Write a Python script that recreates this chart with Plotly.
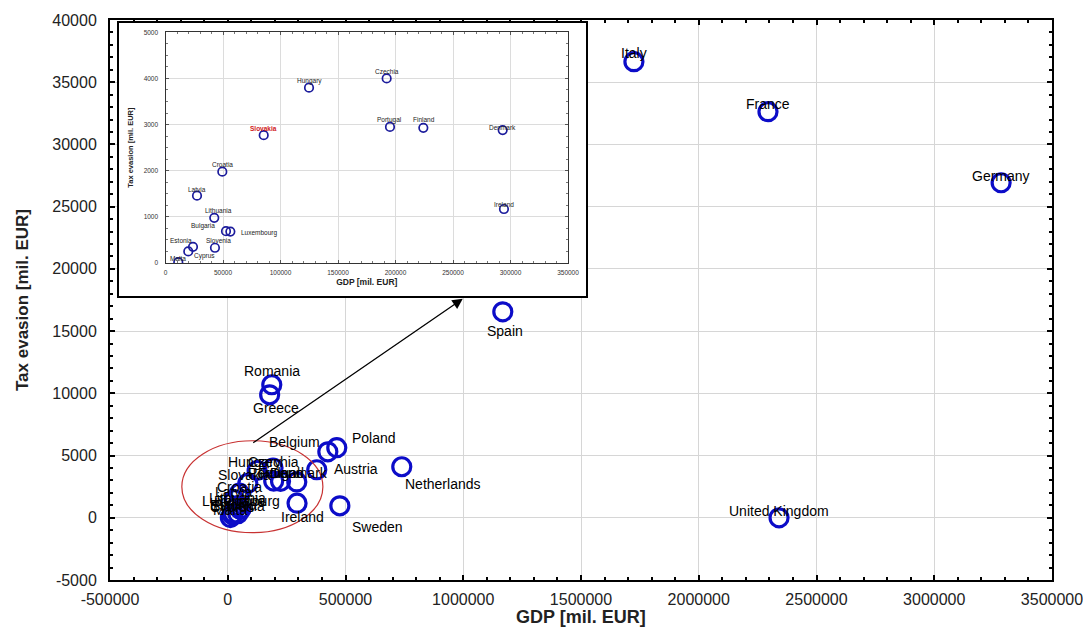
import plotly.graph_objects as go

# ---------------- data ----------------
countries = ["Italy", "France", "Germany", "Spain", "United Kingdom", "Netherlands",
             "Sweden", "Poland", "Belgium", "Austria", "Romania", "Greece", "Ireland",
             "Denmark", "Finland", "Portugal", "Czechia", "Hungary", "Slovakia",
             "Croatia", "Latvia", "Lithuania", "Bulgaria", "Luxembourg", "Slovenia",
             "Estonia", "Cyprus", "Malta"]
gdp = [1724700, 2294000, 3284000, 1168000, 2341000, 739000,
       476000, 463000, 425000, 378000, 187000, 178000, 294300,
       293200, 224200, 195200, 192300, 124800, 85400,
       49400, 27400, 42400, 52600, 56400, 43000,
       23900, 19800, 11100]
tax_evasion = [36650, 32630, 26920, 16550, 0, 4100,
               960, 5630, 5300, 3860, 10690, 9880, 1170,
               2880, 2930, 2950, 4000, 3800, 2770,
               1980, 1460, 980, 690, 680, 330,
               350, 250, 20]

x_ticks = [-500000, 0, 500000, 1000000, 1500000, 2000000, 2500000, 3000000, 3500000]
y_ticks = [-5000, 0, 5000, 10000, 15000, 20000, 25000, 30000, 35000, 40000]
inset_x_ticks = [0, 50000, 100000, 150000, 200000, 250000, 300000, 350000]
inset_y_ticks = [0, 1000, 2000, 3000, 4000, 5000]

x_title = "GDP [mil. EUR]"
y_title = "Tax evasion [mil. EUR]"
highlight = "Slovakia"

# highlighted region (ellipse) and arrow to inset, in data units
ellipse_x = [-195000, 404000]
ellipse_y = [-1200, 6190]
arrow_from = (102000, 5950)
arrow_to = (998000, 17600)

# ---------------- styles ----------------
BLUE = "#0c0cc8"
INSET_BLUE = "#1c1c9c"
FONT = "Liberation Sans, Arial, sans-serif"

main_label_shift = {
    "Italy": (0, 9), "France": (0, 8), "Germany": (0, 7), "Spain": (2, -19),
    "United Kingdom": (0, 7), "Netherlands": (41, -17), "Sweden": (38, -21),
    "Poland": (37, 10), "Belgium": (-33, 10), "Austria": (39, 1),
    "Romania": (0, 14), "Greece": (6, -13), "Ireland": (5, -14),
    "Denmark": (2, 9), "Hungary": (-3, 8), "Czechia": (0, 6), "Slovakia": (-3, 8),
    "Portugal": (0, 8), "Finland": (0, 8), "Croatia": (0, 6), "Latvia": (0, 8),
    "Lithuania": (0, 8), "Bulgaria": (0, 8), "Luxembourg": (0, 8),
    "Slovenia": (0, 8), "Estonia": (0, 8), "Cyprus": (0, 8), "Malta": (0, 8),
}
inset_label_shift = {
    "Hungary": (0, 7), "Slovakia": (0, 7), "Czechia": (0, 7), "Portugal": (0, 7),
    "Finland": (1, 8), "Denmark": (0, 3), "Ireland": (0, 5), "Croatia": (0, 7),
    "Latvia": (0, 6), "Lithuania": (4, 7), "Bulgaria": (-23, 5),
    "Luxembourg": (29, -1), "Slovenia": (4, 7), "Estonia": (-12, 6),
    "Cyprus": (16, -5), "Malta": (0, 4),
}

inset_xmax = inset_x_ticks[-1]
inset_ymax = inset_y_ticks[-1]
inset_idx = [i for i in range(len(countries))
             if gdp[i] <= inset_xmax and tax_evasion[i] <= inset_ymax]

fig = go.Figure()

# main scatter
fig.add_trace(go.Scatter(
    x=gdp, y=tax_evasion, mode="markers", xaxis="x", yaxis="y",
    marker=dict(symbol="circle-open", size=18, color=BLUE, line=dict(width=3.2, color=BLUE)),
    hoverinfo="text", text=countries, showlegend=False))

# inset frame subplot (empty)
fig.add_trace(go.Scatter(x=[], y=[], xaxis="x2", yaxis="y2", showlegend=False, hoverinfo="skip"))

# inset scatter
fig.add_trace(go.Scatter(
    x=[gdp[i] for i in inset_idx], y=[tax_evasion[i] for i in inset_idx],
    mode="markers", xaxis="x3", yaxis="y3",
    marker=dict(symbol="circle-open", size=8.5, color=INSET_BLUE, line=dict(width=1.7, color=INSET_BLUE)),
    hoverinfo="text", text=[countries[i] for i in inset_idx], showlegend=False))

annotations = []
for c, gx, gy in zip(countries, gdp, tax_evasion):
    dx, dy = main_label_shift[c]
    annotations.append(dict(x=gx, y=gy, xref="x", yref="y", text=c, showarrow=False,
                            xshift=dx, yshift=dy,
                            font=dict(family=FONT, size=14, color="black")))
for i in inset_idx:
    c = countries[i]
    dx, dy = inset_label_shift[c]
    is_hl = c == highlight
    annotations.append(dict(x=gdp[i], y=tax_evasion[i], xref="x3", yref="y3",
                            text=("<b>%s</b>" % c) if is_hl else c, showarrow=False,
                            xshift=dx, yshift=dy,
                            font=dict(family=FONT, size=6.5,
                                      color="#d02020" if is_hl else "#222")))
# arrow
annotations.append(dict(x=arrow_to[0], y=arrow_to[1], ax=arrow_from[0], ay=arrow_from[1],
                        xref="x", yref="y", axref="x", ayref="y", text="",
                        showarrow=True, arrowhead=2, arrowsize=1.6, arrowwidth=1.3,
                        arrowcolor="black"))

shapes = [dict(type="circle", xref="x", yref="y",
               x0=ellipse_x[0], x1=ellipse_x[1], y0=ellipse_y[0], y1=ellipse_y[1],
               line=dict(color="#c83232", width=1.2), layer="above")]

# page body has an 8px margin: figure is sized so that the page is 1091x635
BODY = 8
W, H = 1091 - 2 * BODY, 635 - 2 * BODY
# plot area in page pixels: x 110..1052, y 20..580
ML, MR, MT, MB = 110 - BODY, 1091 - BODY - 1052, 20 - BODY, 635 - BODY - 580
PW, PH = W - ML - MR, H - MT - MB


def dom_x(a, b):
    # page-pixel x range -> domain
    return [(a - BODY - ML) / PW, (b - BODY - ML) / PW]


def dom_y(top, bottom):
    # page-pixel y range -> domain
    return [(MT + PH - (bottom - BODY)) / PH, (MT + PH - (top - BODY)) / PH]


# main x-axis title as a paper annotation (kept inside the figure)
annotations.append(dict(x=0.5, y=-37 / PH, xref="paper", yref="paper", yanchor="middle",
                        text="<b>%s</b>" % x_title, showarrow=False,
                        font=dict(family=FONT, size=18, color="#222")))

tickfont_main = dict(family=FONT, size=16, color="#222")

fig.update_layout(
    width=W, height=H, autosize=False,
    margin=dict(l=ML, r=MR, t=MT, b=MB, autoexpand=False),
    paper_bgcolor="white", plot_bgcolor="white",
    showlegend=False,
    annotations=annotations, shapes=shapes,
    xaxis=dict(
        automargin=False,
        range=[x_ticks[0], x_ticks[-1]], tickmode="array", tickvals=x_ticks,
        ticktext=[str(v) for v in x_ticks], tickfont=tickfont_main,
        ticklabeloverflow="allow",
        showgrid=True, gridcolor="#d6d6d6", gridwidth=1, zeroline=False,
        showline=True, linecolor="black", linewidth=2, mirror="ticks",
        ticks="inside", ticklen=5, tickcolor="black", tickwidth=1.5,
        minor=dict(tick0=0, dtick=100000, ticks="inside", ticklen=3, tickcolor="black", showgrid=False),
        ticklabelstandoff=4,
    ),
    yaxis=dict(
        automargin=False,
        range=[y_ticks[0], y_ticks[-1]], tickmode="array", tickvals=y_ticks,
        ticktext=[str(v) for v in y_ticks], tickfont=tickfont_main,
        ticklabeloverflow="allow",
        showgrid=True, gridcolor="#d6d6d6", gridwidth=1, zeroline=False,
        showline=True, linecolor="black", linewidth=2, mirror="ticks",
        ticks="inside", ticklen=5, tickcolor="black", tickwidth=1.5,
        minor=dict(tick0=0, dtick=1000, ticks="inside", ticklen=3, tickcolor="black", showgrid=False),
        ticklabelstandoff=8,
        title=dict(text="<b>%s</b>" % y_title, font=dict(family=FONT, size=17, color="#222"), standoff=19),
    ),
    # inset frame
    xaxis2=dict(automargin=False, domain=dom_x(119, 586), anchor="y2", range=[0, 1], showgrid=False,
                zeroline=False, showticklabels=False, ticks="", showline=True, linecolor="black",
                linewidth=2, mirror=True, fixedrange=True),
    yaxis2=dict(automargin=False, domain=dom_y(22.5, 296), anchor="x2", range=[0, 1], showgrid=False,
                zeroline=False, showticklabels=False, ticks="", showline=True, linecolor="black",
                linewidth=2, mirror=True, fixedrange=True),
    # inset plot
    xaxis3=dict(automargin=False, domain=dom_x(165.5, 568), anchor="y3", range=[0, inset_xmax],
                tickmode="array", tickvals=inset_x_ticks, ticktext=[str(v) for v in inset_x_ticks],
                tickfont=dict(family=FONT, size=6.5, color="#333"),
                showgrid=True, gridcolor="#dcdcdc", zeroline=False,
                showline=True, linecolor="#333", linewidth=1.2, mirror="ticks",
                ticks="inside", ticklen=3, tickcolor="#555",
                minor=dict(tick0=0, dtick=10000, ticks="inside", ticklen=2, tickcolor="#777", showgrid=False),
                ticklabelstandoff=3,
                title=dict(text="<b>%s</b>" % x_title, font=dict(family=FONT, size=8.5, color="#222"), standoff=4)),
    yaxis3=dict(automargin=False, domain=dom_y(32.3, 263), anchor="x3", range=[0, inset_ymax],
                tickmode="array", tickvals=inset_y_ticks, ticktext=[str(v) for v in inset_y_ticks],
                tickfont=dict(family=FONT, size=6.5, color="#333"),
                showgrid=True, gridcolor="#dcdcdc", zeroline=False,
                showline=True, linecolor="#333", linewidth=1.2, mirror="ticks",
                ticks="inside", ticklen=3, tickcolor="#555",
                minor=dict(tick0=0, dtick=250, ticks="inside", ticklen=2, tickcolor="#777", showgrid=False),
                ticklabelstandoff=5,
                title=dict(text="<b>%s</b>" % y_title, font=dict(family=FONT, size=7.5, color="#222"), standoff=8)),
)

fig.write_html("out.html")
